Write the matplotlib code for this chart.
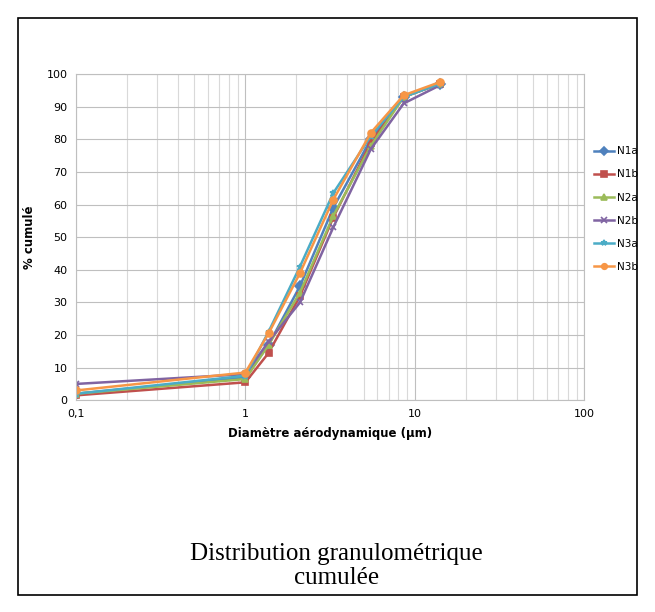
import matplotlib.pyplot as plt
from matplotlib.patches import Rectangle
from matplotlib.ticker import FixedLocator, LogLocator, NullFormatter

# diametres (µm) et pourcentages cumulés
diam = [0.1, 1.0, 1.37, 2.1, 3.3, 5.5, 8.6, 14.0]
n1a = [2.0, 7.0, 17.0, 35.0, 59.0, 80.0, 93.0, 97.0]
n1b = [1.5, 5.5, 14.5, 32.0, 56.0, 79.0, 93.0, 97.0]
n2a = [2.0, 6.5, 17.0, 33.0, 56.5, 78.0, 93.0, 97.0]
n2b = [5.0, 8.0, 18.0, 30.0, 53.0, 77.0, 91.0, 96.5]
n3a = [2.0, 7.5, 21.0, 41.0, 63.5, 81.0, 93.0, 97.0]
n3b = [3.0, 8.5, 20.5, 39.0, 61.5, 82.0, 93.5, 97.5]

series = [
    ('N1a', n1a, '#4F81BD', 'D'),
    ('N1b', n1b, '#C0504D', 's'),
    ('N2a', n2a, '#9BBB59', '^'),
    ('N2b', n2b, '#8064A2', 'x'),
    ('N3a', n3a, '#4BACC6', '*'),
    ('N3b', n3b, '#F79646', 'o'),
]

xticks = [0.1, 1, 10, 100]
xticklabels = ['0,1', '1', '10', '100']

fig = plt.figure(figsize=(6.55, 6.12), dpi=100)
ax = fig.add_axes([0.116, 0.346, 0.776, 0.533])

for name, vals, col, mk in series:
    ax.plot(diam, vals, color=col, marker=mk, markersize=5, linewidth=1.8,
            markeredgewidth=1.2, label=name)

ax.set_xscale('log')
ax.set_xlim(0.1, 100)
ax.set_ylim(0, 100)
ax.xaxis.set_major_locator(FixedLocator(xticks))
ax.set_xticklabels(xticklabels)
ax.xaxis.set_minor_locator(LogLocator(base=10, subs=range(2, 10)))
ax.xaxis.set_minor_formatter(NullFormatter())
ax.set_yticks(range(0, 101, 10))

ax.grid(True, which='major', color='#bfbfbf', linewidth=0.8)
ax.grid(True, which='minor', axis='x', color='#d9d9d9', linewidth=0.8)
ax.set_axisbelow(True)
for s in ax.spines.values():
    s.set_color('#bfbfbf')
ax.tick_params(which='both', length=0, labelsize=8, pad=6)

ax.set_xlabel('Diamètre aérodynamique (µm)', fontsize=8.5, fontweight='bold', labelpad=6)
ax.set_ylabel('% cumulé', fontsize=8.5, fontweight='bold', labelpad=8)

fig.legend(loc='upper left', bbox_to_anchor=(0.893, 0.776), frameon=False,
           fontsize=7.5, handlelength=1.9, labelspacing=1.25, handletextpad=0.3,
           markerscale=0.8)

fig.patches.append(Rectangle((0.0275, 0.0278), 0.945, 0.943, transform=fig.transFigure,
                             fill=False, edgecolor='black', linewidth=1.2))

fig.text(0.514, 0.075, 'Distribution granulométrique\ncumulée', ha='center', va='center',
         family='Liberation Serif', fontsize=18, linespacing=1.15)

fig.savefig('out.png', dpi=100)
